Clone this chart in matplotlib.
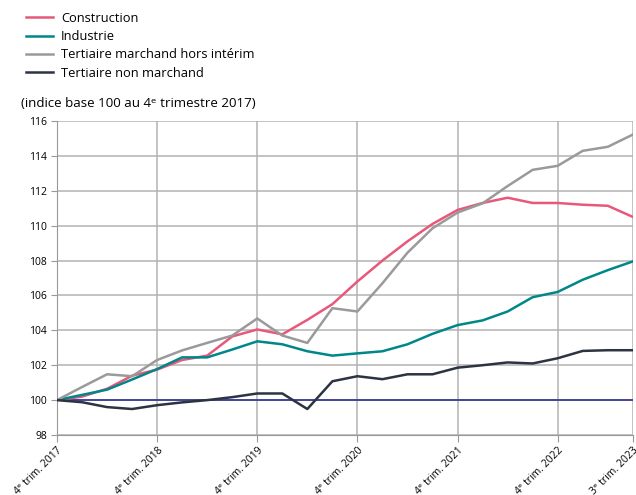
import matplotlib.pyplot as plt
from matplotlib.lines import Line2D

plt.rcParams['font.family'] = ['Open Sans', 'DejaVu Sans']

# quarters from 4e trim. 2017 (index 0) to 3e trim. 2023 (index 23)
tick_pos = [0, 4, 8, 12, 16, 20, 23]
tick_labels = ["4ᵉ trim. 2017", "4ᵉ trim. 2018", "4ᵉ trim. 2019", "4ᵉ trim. 2020",
               "4ᵉ trim. 2021", "4ᵉ trim. 2022", "3ᵉ trim. 2023"]

construction = [100.0, 100.2, 100.65, 101.4, 101.75, 102.3, 102.55, 103.65, 104.05, 103.77,
                104.6, 105.5, 106.8, 108.0, 109.1, 110.1, 110.9, 111.3, 111.6, 111.3,
                111.3, 111.2, 111.14, 110.5]
industrie = [100.0, 100.3, 100.6, 101.18, 101.78, 102.45, 102.45, 102.9, 103.37, 103.2,
             102.8, 102.55, 102.68, 102.8, 103.2, 103.8, 104.3, 104.57, 105.08, 105.9,
             106.2, 106.9, 107.45, 107.95]
tertiaire_marchand = [100.0, 100.75, 101.48, 101.37, 102.3, 102.85, 103.28, 103.7, 104.68, 103.7,
                      103.28, 105.27, 105.08, 106.7, 108.45, 109.85, 110.75, 111.28, 112.27, 113.2,
                      113.43, 114.29, 114.52, 115.22]
tertiaire_non_marchand = [100.0, 99.88, 99.6, 99.49, 99.71, 99.87, 100.0, 100.17, 100.38, 100.38,
                          99.49, 101.08, 101.37, 101.2, 101.48, 101.48, 101.86, 102.0, 102.16, 102.1,
                          102.4, 102.82, 102.86, 102.86]

series = [
    ("Construction", construction, "#e8587a"),
    ("Industrie", industrie, "#00878a"),
    ("Tertiaire marchand hors intérim", tertiaire_marchand, "#9a9a9a"),
    ("Tertiaire non marchand", tertiaire_non_marchand, "#2b3440"),
]

fig = plt.figure(figsize=(6.36, 4.95), dpi=100)
ax = fig.add_axes([0.0896, 0.1212, 0.9054, 0.6344])

x = list(range(len(construction)))
ax.axhline(100, color="#3b3b96", lw=1.3, zorder=2)
for name, vals, col in series:
    ax.plot(x, vals, color=col, lw=1.8, zorder=3)

ax.set_xlim(0, 23)
ax.set_ylim(98, 116)
ax.set_yticks(range(98, 117, 2))
ax.set_xticks(tick_pos)
ax.set_xticklabels(tick_labels, rotation=45, ha="right", rotation_mode="anchor", fontsize=7.5)
ax.tick_params(axis="y", labelsize=7.5, length=4, color="#999999", pad=3)
ax.tick_params(axis="x", length=5, color="#999999", pad=2)
ax.grid(True, color="#b3b3b3", lw=1.1, zorder=1)
for s in ["top", "right"]:
    ax.spines[s].set_visible(False)
ax.spines["left"].set_color("#999999")
ax.spines["bottom"].set_color("#999999")

# legend above the plot
handles = [Line2D([], [], color=c, lw=1.8) for _, _, c in series]
fig.legend(handles, [n for n, _, _ in series], loc="upper left", bbox_to_anchor=(0.022, 1.0),
           frameon=False, fontsize=9.3, handlelength=2.1, handletextpad=0.62, labelspacing=0.42)

fig.text(0.033, 0.79, "(indice base 100 au 4ᵉ trimestre 2017)", fontsize=9.6, va="center")

fig.savefig("out.png", dpi=100)
